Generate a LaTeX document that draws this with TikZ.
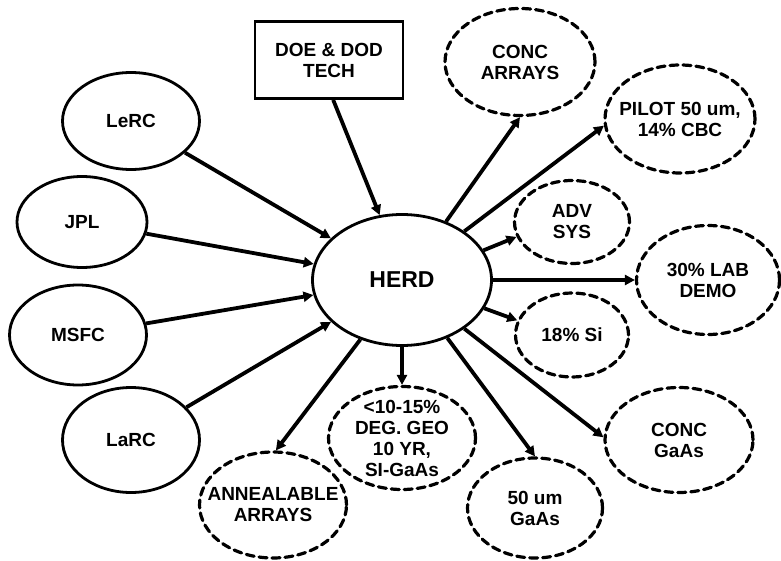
\documentclass[tikz,border=0pt]{standalone}
\usepackage{fontspec}
\setmainfont{Liberation Sans}
\usetikzlibrary{shapes.geometric,arrows.meta}
\tikzset{
  txt/.style={font=\fontsize{19}{21}\selectfont\bfseries, align=center, inner sep=0pt},
  solidell/.style={ellipse, draw, line width=2.8pt, inner sep=0pt, label={[txt]center:#1}},
  dashell/.style={ellipse, draw, line width=3.2pt, dash pattern=on 8pt off 5pt, line cap=round, inner sep=0pt, label={[txt]center:#1}},
  arr/.style={line width=3.8pt, -{Triangle[length=10pt,width=10pt]}},
}
\begin{document}
\begin{tikzpicture}[x=1pt,y=-1pt]
\useasboundingbox (0,0) rectangle (781,561);
% sources
\node[solidell={LeRC}, minimum width=137pt, minimum height=97pt] (lerc) at (131,121) {};
\node[solidell={JPL}, minimum width=130pt, minimum height=91pt] (jpl) at (82,222) {};
\node[solidell={MSFC}, minimum width=137pt, minimum height=100pt] (msfc) at (78,335) {};
\node[solidell={LaRC}, minimum width=137pt, minimum height=105pt] (larc) at (131,440) {};
\node[draw, line width=2.8pt, minimum width=148pt, minimum height=77pt, txt] (doe) at (329,60) {DOE \& DOD\\TECH};
% center
\node[ellipse, draw, line width=2.8pt, minimum width=179pt, minimum height=131pt, inner sep=0pt,
      label={[txt, font=\fontsize{23}{25}\selectfont\bfseries]center:HERD}] (herd) at (402,280) {};
% outputs
\node[dashell={CONC\\ARRAYS}, minimum width=150pt, minimum height=107pt] (concarr) at (520,62) {};
\node[dashell={PILOT 50 um,\\14\% CBC}, minimum width=150pt, minimum height=108pt] (pilot) at (680,119) {};
\node[dashell={ADV\\SYS}, minimum width=115pt, minimum height=83pt] (adv) at (572,222) {};
\node[dashell={30\% LAB\\DEMO}, minimum width=143pt, minimum height=109pt] (lab) at (708,280) {};
\node[dashell={18\% Si}, minimum width=113pt, minimum height=84pt] (si) at (572,335) {};
\node[dashell={CONC\\GaAs}, minimum width=148pt, minimum height=105pt] (gaasc) at (679,440) {};
\node[dashell={50 um\\GaAs}, minimum width=135pt, minimum height=100pt] (um50) at (535,508) {};
\node[dashell={<10-15\%\\DEG. GEO\\10 YR,\\SI-GaAs}, minimum width=147pt, minimum height=103pt] (geo) at (402,438) {};
\node[dashell={ANNEALABLE\\ARRAYS}, minimum width=147pt, minimum height=106pt] (ann) at (273,505) {};
% incoming
\draw[arr] (lerc) -- (herd);
\draw[arr] (jpl) -- (herd);
\draw[arr] (msfc) -- (herd);
\draw[arr] (larc) -- (herd);
\draw[arr] (doe.-84) -- (herd.109);
% outgoing
\draw[arr] (herd.53) -- (concarr.south);
\draw[arr] (herd.38) -- (pilot.185);
\draw[arr] (herd.20) -- (adv.195);
\draw[arr] (herd.east) -- (lab.west);
\draw[arr] (herd.-19) -- (si.165);
\draw[arr] (herd.-38) -- (gaasc.178);
\draw[arr] (herd.-52) -- (um50.north);
\draw[arr] (herd.south) -- (geo.north);
\draw[arr] (herd.235) -- (ann.87);
\end{tikzpicture}
\end{document}
